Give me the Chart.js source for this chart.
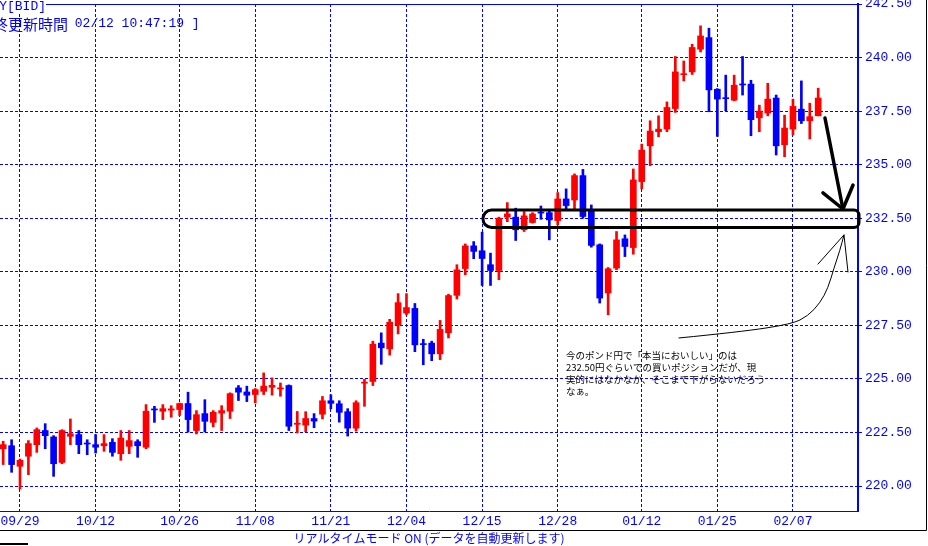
<!DOCTYPE html>
<html><head><meta charset="utf-8">
<script src="https://cdn.jsdelivr.net/npm/chart.js@4"></script>
<style>html,body{margin:0;padding:0;background:#fff;overflow:hidden}canvas{display:block}</style>
</head><body>
<canvas id="c" width="928" height="546"></canvas>
<script>
const dates = ['09/27','09/28','09/29','10/02','10/03','10/04','10/05','10/06','10/09','10/10','10/11','10/12','10/13','10/16','10/17','10/18','10/19','10/20','10/23','10/24','10/25','10/26','10/27','10/30','10/31','11/01','11/02','11/03','11/06','11/07','11/08','11/09','11/10','11/13','11/14','11/15','11/16','11/17','11/20','11/21','11/22','11/23','11/24','11/27','11/28','11/29','11/30','12/01','12/04','12/05','12/06','12/07','12/08','12/11','12/12','12/13','12/14','12/15','12/18','12/19','12/20','12/21','12/22','12/25','12/26','12/27','12/28','12/29','01/02','01/03','01/04','01/05','01/08','01/09','01/10','01/11','01/12','01/15','01/16','01/17','01/18','01/19','01/22','01/23','01/24','01/25','01/26','01/29','01/30','01/31','02/01','02/02','02/05','02/06','02/07','02/08','02/09','02/12'];
const openP  = [221.74,221.88,220.92,221.39,221.93,222.59,222.29,221.10,222.32,222.40,222.00,221.93,221.88,222.04,221.51,221.85,222.07,221.81,223.58,223.49,223.54,223.57,223.85,222.59,223.38,222.97,223.40,223.49,224.58,224.39,224.27,224.42,224.61,224.53,224.69,222.88,222.84,223.15,223.35,223.98,223.84,223.47,222.70,224.80,224.88,226.67,226.40,227.52,228.07,228.29,226.64,226.67,226.17,227.15,228.90,230.15,231.21,230.98,230.33,230.06,232.55,232.55,231.96,232.30,232.78,232.76,232.39,233.40,233.35,234.49,232.89,231.26,229.01,230.17,231.54,231.13,234.21,235.88,236.54,236.66,237.62,239.20,239.33,240.39,240.93,238.52,238.12,238.01,238.76,238.76,237.19,237.41,238.11,235.93,236.66,237.59,237.05,237.28];
const highP  = [222.09,222.16,221.26,222.12,222.71,222.91,222.35,222.63,223.13,222.59,222.16,222.40,222.40,222.21,222.59,222.59,222.16,223.80,223.72,223.80,223.75,223.87,224.38,223.52,224.03,223.52,223.75,224.35,224.69,224.66,224.55,225.28,225.05,224.81,224.72,223.48,223.47,223.38,224.18,224.26,223.98,223.61,223.98,224.98,226.76,227.15,227.78,228.98,228.98,228.52,226.85,226.76,227.73,228.95,230.33,231.30,231.41,231.85,230.87,232.55,233.23,232.97,232.81,232.76,233.07,232.89,233.70,233.87,234.57,234.78,233.12,231.30,230.20,231.88,231.72,234.80,235.96,237.05,237.28,237.93,240.05,239.84,240.62,241.48,241.37,238.55,239.18,239.18,240.05,238.94,237.78,238.80,238.25,237.31,238.06,238.91,237.87,238.57];
const lowP   = [221.00,220.64,219.86,220.53,221.57,221.74,220.45,221.04,221.93,221.51,221.46,221.54,221.62,221.39,221.20,221.51,221.34,221.74,222.97,223.10,223.21,223.29,222.52,222.43,222.52,222.76,222.59,223.15,223.99,223.94,223.88,224.27,224.24,224.19,222.59,222.48,222.53,222.72,223.13,223.60,222.98,222.33,222.56,223.72,224.69,225.68,226.11,227.10,227.98,226.27,225.66,225.85,225.90,226.91,228.73,229.86,230.61,229.36,229.36,229.63,232.34,231.46,231.88,232.27,232.45,231.49,232.19,232.89,232.89,232.50,231.15,228.54,227.99,230.10,230.71,230.82,233.87,234.95,236.30,236.54,237.44,238.91,239.21,240.26,237.47,236.32,237.52,237.98,238.25,236.35,236.54,237.28,235.45,235.37,236.38,236.92,236.20,237.28];
const closeP = [221.93,221.00,221.20,221.98,222.63,222.35,221.04,222.59,222.44,221.93,221.96,221.81,221.98,221.57,222.24,222.12,221.88,223.49,223.55,223.61,223.60,223.85,223.10,223.33,223.02,223.44,223.52,224.31,224.38,224.24,224.50,224.66,224.70,224.58,222.79,222.93,223.15,223.03,223.98,223.86,223.44,222.70,223.89,224.85,226.62,226.45,227.64,228.56,228.33,226.59,226.60,226.17,227.31,228.89,230.09,231.21,230.95,230.62,230.06,232.50,232.70,231.96,232.61,232.70,232.74,232.42,233.40,233.09,234.49,232.58,231.23,228.77,230.14,231.49,231.18,234.29,235.68,236.57,236.66,237.67,239.33,239.24,240.47,241.01,238.49,238.06,238.08,238.71,238.72,237.10,237.50,238.06,235.88,236.71,237.72,237.05,237.24,238.11];
const tickLabels = ['09/29','10/12','10/26','11/08','11/21','12/04','12/15','12/28','01/12','01/25','02/07'];
const yTickValues = [220.00,222.50,225.00,227.50,230.00,232.50,235.00,237.50,240.00,242.50];
const noteLines = ['今のポンド円で「本当においしい」のは','232.50円ぐらいでの買いポジションだが、現','実的にはなかなか、そこまで下がらないだろう','なぁ。'];

const BLUE = '#0000ff', RED = '#ff0000';
const colors = closeP.map((c, i) => c >= openP[i] ? RED : BLUE);
const bodyData = dates.map((d, i) => ({x: i, y: [openP[i], closeP[i]]}));
const wickData = dates.map((d, i) => ({x: i, y: [lowP[i], highP[i]]}));
const tickIdx = tickLabels.map(t => dates.indexOf(t));

const deco = {
  id: 'deco',
  beforeDraw(chart) {
    const ctx = chart.ctx;
    ctx.save(); ctx.fillStyle = '#fff'; ctx.fillRect(0, 0, chart.width, chart.height); ctx.restore();
  },
  afterDraw(chart) {
    const {ctx, chartArea: ca} = chart;
    const X = v => chart.scales.x.getPixelForValue(v);
    const Y = v => chart.scales.y.getPixelForValue(v);
    ctx.save();
    // top border
    ctx.strokeStyle = BLUE; ctx.lineWidth = 1;
    ctx.beginPath(); ctx.moveTo(0, ca.top + 0.5); ctx.lineTo(ca.right, ca.top + 0.5); ctx.stroke();
    // title
    ctx.fillStyle = '#fff'; ctx.fillRect(0, 0, 46, 14);
    ctx.fillStyle = BLUE; ctx.textBaseline = 'middle';
    ctx.font = '13px "Liberation Mono", monospace';
    ctx.textAlign = 'right'; ctx.fillText('GBP/JPY[BID]', 46, 7);
    ctx.font = '15px "Noto Sans CJK JP"';
    ctx.fillText('[最終更新時間', 68, 24);
    ctx.textAlign = 'left'; ctx.font = '13px "Liberation Mono", monospace';
    ctx.fillText(' 02/12 10:47:19 ]', 67, 24);

    // oval around 232.50
    ctx.strokeStyle = '#000'; ctx.lineWidth = 3;
    const xl = X(57.1), xr = ca.right + 1, yt = Y(232.88), yb = Y(232.07);
    const r = (yb - yt) / 2, rr = 5;
    ctx.beginPath();
    ctx.moveTo(xl + r, yt); ctx.lineTo(xr - rr, yt);
    ctx.arcTo(xr, yt, xr, yt + rr, rr); ctx.lineTo(xr, yb - rr);
    ctx.arcTo(xr, yb, xr - rr, yb, rr); ctx.lineTo(xl + r, yb);
    ctx.arc(xl + r, yt + r, r, Math.PI / 2, Math.PI * 1.5);
    ctx.closePath(); ctx.stroke();

    // thick arrow
    ctx.lineWidth = 3.5; ctx.lineCap = 'round'; ctx.lineJoin = 'round';
    ctx.beginPath(); ctx.moveTo(X(97.81), Y(237.18)); ctx.lineTo(X(99.95), Y(232.93)); ctx.stroke();
    ctx.beginPath(); ctx.moveTo(X(97.57), Y(233.68)); ctx.lineTo(X(99.95), Y(232.93)); ctx.lineTo(X(101.15), Y(234.05)); ctx.stroke();

    // thin curved arrow
    ctx.lineWidth = 1;
    const pts = [[80.43,226.91],[87.69,227.19],[93.88,227.56],[95.79,227.94],[97.21,228.54],[98.17,229.24],[98.88,230.17],[99.6,231.02],[100.07,231.72]].map(p => [X(p[0]), Y(p[1])]);
    ctx.beginPath(); ctx.moveTo(pts[0][0], pts[0][1]);
    for (let i = 1; i < pts.length - 1; i++) {
      const mx = (pts[i][0] + pts[i+1][0]) / 2, my = (pts[i][1] + pts[i+1][1]) / 2;
      ctx.quadraticCurveTo(pts[i][0], pts[i][1], mx, my);
    }
    ctx.lineTo(pts[pts.length-1][0], pts[pts.length-1][1]);
    ctx.stroke();
    ctx.beginPath(); ctx.moveTo(X(96.98), Y(230.36)); ctx.lineTo(X(100.07), Y(231.72)); ctx.lineTo(X(100.55), Y(229.99)); ctx.stroke();

    // note text
    ctx.fillStyle = '#000'; ctx.font = '9.5px "Noto Sans CJK JP"'; ctx.textAlign = 'left'; ctx.textBaseline = 'middle';
    const nx = X(66.98), ny = Y(226.12);
    noteLines.forEach((t, i) => ctx.fillText(t, nx, ny + i * 12));

    // frame lines
    ctx.strokeStyle = '#000'; ctx.lineWidth = 1; ctx.lineCap = 'butt';
    ctx.beginPath(); ctx.moveTo(0, 530.5); ctx.lineTo(926.5, 530.5); ctx.lineTo(926.5, 0); ctx.stroke();
    ctx.lineWidth = 2;
    ctx.beginPath(); ctx.moveTo(0, 544); ctx.lineTo(28, 544); ctx.stroke();

    // status text
    ctx.fillStyle = BLUE; ctx.font = '12px "Noto Sans CJK JP"'; ctx.textAlign = 'center';
    ctx.fillText('リアルタイムモード ON (データを自動更新します)', (ca.left + ca.right) / 2, 538.5);
    ctx.restore();
  }
};

const noPad = s => { s.paddingTop = 0; s.paddingBottom = 0; s.paddingLeft = 0; s.paddingRight = 0; };

new Chart(document.getElementById('c'), {
  type: 'bar',
  data: {
    datasets: [
      {data: bodyData, backgroundColor: colors, barThickness: 6, minBarLength: 1, grouped: false, borderWidth: 0},
      {data: wickData, backgroundColor: colors, barThickness: 2, grouped: false, borderWidth: 0}
    ]
  },
  options: {
    responsive: false, animation: false, devicePixelRatio: 1, events: [],
    layout: {padding: {top: 4, left: 0, right: 0, bottom: 0}},
    plugins: {legend: {display: false}, tooltip: {enabled: false}},
    scales: {
      x: {
        type: 'linear', min: -0.38, max: 101.74, offset: false,
        afterBuildTicks: s => { s.ticks = tickIdx.map(v => ({value: v})); },
        afterFit: s => { s.height = 35; noPad(s); },
        grid: {color: BLUE, lineWidth: 1, drawTicks: false, offset: false},
        border: {display: true, color: BLUE, width: 1, dash: [3, 2]},
        ticks: {autoSkip: false, maxRotation: 0, padding: 3, color: BLUE,
          font: {family: '"Liberation Mono", monospace', size: 13},
          callback: v => dates[v] || ''}
      },
      y: {
        position: 'right', min: 218.833, max: 242.5,
        afterBuildTicks: s => { s.ticks = yTickValues.map(v => ({value: v})); },
        afterFit: s => { s.width = 70; noPad(s); },
        grid: {color: BLUE, lineWidth: 1, drawTicks: true, tickLength: 4, tickColor: BLUE, tickBorderDash: [3, 2]},
        border: {display: true, color: BLUE, width: 2, dash: [3, 2]},
        ticks: {padding: 3, color: BLUE, font: {family: '"Liberation Mono", monospace', size: 13},
          callback: v => Number(v).toFixed(2)}
      }
    }
  },
  plugins: [deco]
});
</script>
</body></html>
